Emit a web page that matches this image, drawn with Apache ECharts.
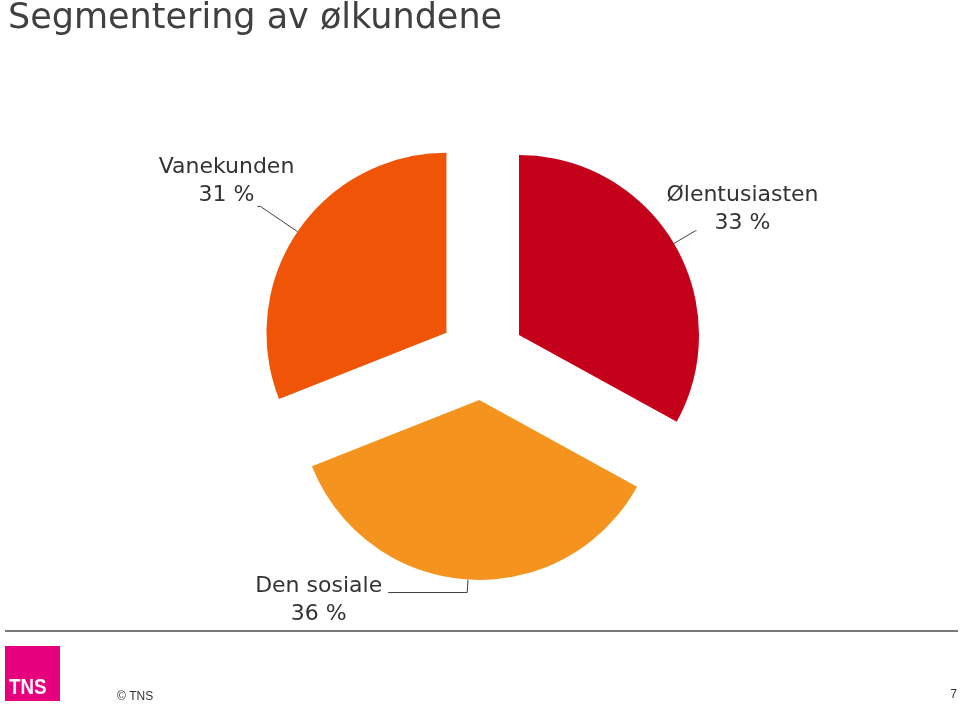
<!DOCTYPE html>
<html><head><meta charset="utf-8">
<script src="https://cdn.jsdelivr.net/npm/echarts@6/dist/echarts.min.js"></script>
<style>html,body{margin:0;padding:0;background:#fff}#c{width:960px;height:705px}</style>
</head><body><div id="c"></div>
<script>
const categories = ['Ølentusiasten', 'Den sosiale', 'Vanekunden'];
const values = [33, 36, 31];
const colors = ['#C4001A', '#F5931F', '#EF5407'];

// per-slice label-line styling (length, length2, distance, padding)
const lineLen = [25, 13, 45];
const lineLen2 = [1, 79, 3];
const labelDist = [-30, 6, -37];
const labelPad = [[0, 0, 42, 0], [16, 0, 0, 0], [0, 0, 51, 0]];

const txt = {fontFamily: 'DejaVu Sans', fontSize: 22, color: '#333', lineHeight: 28, align: 'center'};

const chart = echarts.init(document.getElementById('c'), null, {renderer: 'canvas'});
const data = categories.map((n, i) => ({
  name: n, value: values[i], selected: true,
  itemStyle: {color: colors[i]},
  label: {distanceToLabelLine: labelDist[i], padding: labelPad[i]},
  labelLine: {length: lineLen[i], length2: lineLen2[i]}
}));
chart.setOption({
  animation: false,
  title: {
    text: 'Segmentering av ølkundene', left: 3, top: -4,
    textStyle: {fontFamily: 'DejaVu Sans', fontSize: 35, fontWeight: 'normal', color: '#404040'}
  },
  series: [{
    type: 'pie',
    center: [482, 357],
    radius: 180,
    startAngle: 90,
    clockwise: true,
    selectedMode: 'multiple',
    selectedOffset: 43,
    silent: true,
    avoidLabelOverlap: false,
    emphasis: {disabled: true, scale: false},
    data: data,
    label: {
      show: true, position: 'outside',
      formatter: p => '{t|' + p.name + '}\n{t|' + p.value + ' %}',
      fontFamily: 'DejaVu Sans', fontSize: 22, color: '#333', lineHeight: 28,
      rich: {t: txt}
    },
    labelLine: {show: true, lineStyle: {color: '#404040', width: 1}}
  }],
  graphic: [
    {type: 'line', shape: {x1: 5, y1: 631, x2: 958, y2: 631}, style: {stroke: '#7a7a7a', lineWidth: 2}},
    {type: 'rect', shape: {x: 5, y: 646, width: 55, height: 55}, style: {fill: '#E6007E'}},
    {type: 'text', x: 9, y: 699, scaleX: 0.85, style: {text: 'TNS', fill: '#fff', font: 'bold 22px "Liberation Sans Narrow", "Liberation Sans", sans-serif', textVerticalAlign: 'bottom'}},
    {type: 'text', x: 117, y: 703, style: {text: '© TNS', fill: '#333', font: '12px "Liberation Sans", sans-serif', textVerticalAlign: 'bottom'}},
    {type: 'text', x: 957, y: 701, style: {text: '7', fill: '#333', font: '12px "Liberation Sans", sans-serif', textAlign: 'right', textVerticalAlign: 'bottom'}}
  ]
});
</script></body></html>
